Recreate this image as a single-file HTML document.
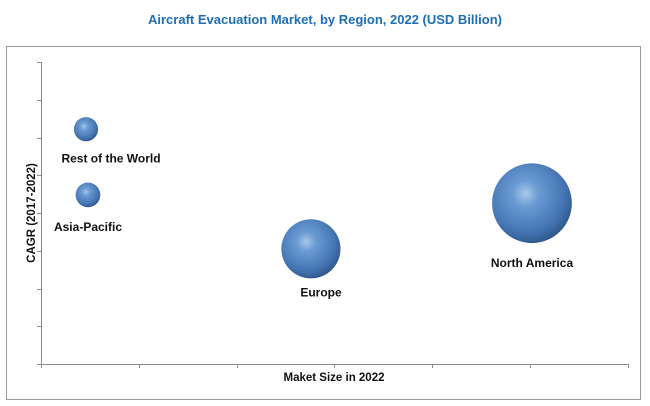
<!DOCTYPE html>
<html><head><meta charset="utf-8">
<style>
html,body{margin:0;padding:0;background:#fff;}
svg{display:block;font-family:"Liberation Sans",sans-serif;}
</style></head>
<body>
<svg id="chart" width="650" height="406" viewBox="0 0 650 406" xmlns="http://www.w3.org/2000/svg">
<defs>
<radialGradient id="ball" cx="0.42" cy="0.38" r="0.65">
<stop offset="0" stop-color="#a9c8ec"/>
<stop offset="0.25" stop-color="#6a9bd3"/>
<stop offset="0.75" stop-color="#4475b2"/>
<stop offset="1" stop-color="#2d558a"/>
</radialGradient>
</defs>
<text x="325" y="24" text-anchor="middle" font-size="13" font-weight="bold" fill="#1d6fb5">Aircraft Evacuation Market, by Region, 2022 (USD Billion)</text>
<rect x="6.5" y="46.5" width="634" height="353" fill="none" stroke="#9a9a9a" stroke-width="1"/>
<g id="axes"></g>
<g id="marks"></g>
<text x="334" y="381" text-anchor="middle" font-size="11.5" font-weight="bold" fill="#111">Maket Size in 2022</text>
<text transform="translate(35,213) rotate(-90)" text-anchor="middle" font-size="11.5" font-weight="bold" fill="#111">CAGR (2017-2022)</text>
</svg>
<script>
const regions = ["Rest of the World", "Asia-Pacific", "Europe", "North America"];
const marketSize = [0.46, 0.48, 2.76, 5.02];
const cagr = [6.22, 4.48, 3.05, 4.26];
const labelX = [111, 88, 321, 532];
const labelGap = [21, 24, 18, 24];
const xTicks = [0, 1, 2, 3, 4, 5, 6];
const yTicks = [0, 1, 2, 3, 4, 5, 6, 7, 8];

const NS = "http://www.w3.org/2000/svg";
const x0 = 41, xStep = 97.8, y0 = 364, yStep = 37.75;
function xs(v){ return x0 + v * xStep; }
function ys(v){ return y0 - v * yStep; }
function rs(v){ return 17.8 * Math.sqrt(v); }

const axes = document.getElementById("axes");
function line(x1,y1,x2,y2){
  const l = document.createElementNS(NS,"line");
  l.setAttribute("x1",x1);l.setAttribute("y1",y1);l.setAttribute("x2",x2);l.setAttribute("y2",y2);
  l.setAttribute("stroke","#8a8a8a");l.setAttribute("stroke-width","1");
  return l;
}
const ya = line(x0+0.5, ys(8), x0+0.5, y0+0.5);


axes.appendChild(ya);
const xa = line(x0, y0+0.5, xs(6), y0+0.5);


axes.appendChild(xa);
yTicks.forEach(t => {
  const l = line(x0-4, Math.round(ys(t))+0.5, x0, Math.round(ys(t))+0.5);
  
  
  axes.appendChild(l);
});
xTicks.forEach(t => {
  const l = line(Math.round(xs(t))+0.5, y0, Math.round(xs(t))+0.5, y0+4);
  
  
  axes.appendChild(l);
});

const marks = document.getElementById("marks");
regions.forEach((name, i) => {
  const cx = xs(marketSize[i]), cy = ys(cagr[i]), r = rs(marketSize[i]);
  const c = document.createElementNS(NS,"circle");
  c.setAttribute("cx",cx);c.setAttribute("cy",cy);c.setAttribute("r",r);
  c.setAttribute("fill","url(#ball)");
  
  
  marks.appendChild(c);
  const t = document.createElementNS(NS,"text");
  t.setAttribute("x", labelX[i]);
  t.setAttribute("y", cy + r + labelGap[i]);
  t.setAttribute("text-anchor","middle");
  t.setAttribute("font-size","12");
  t.setAttribute("font-weight","bold");
  t.setAttribute("fill","#111");
  t.textContent = name;
  
  
  marks.appendChild(t);
});
</script>
</body></html>
